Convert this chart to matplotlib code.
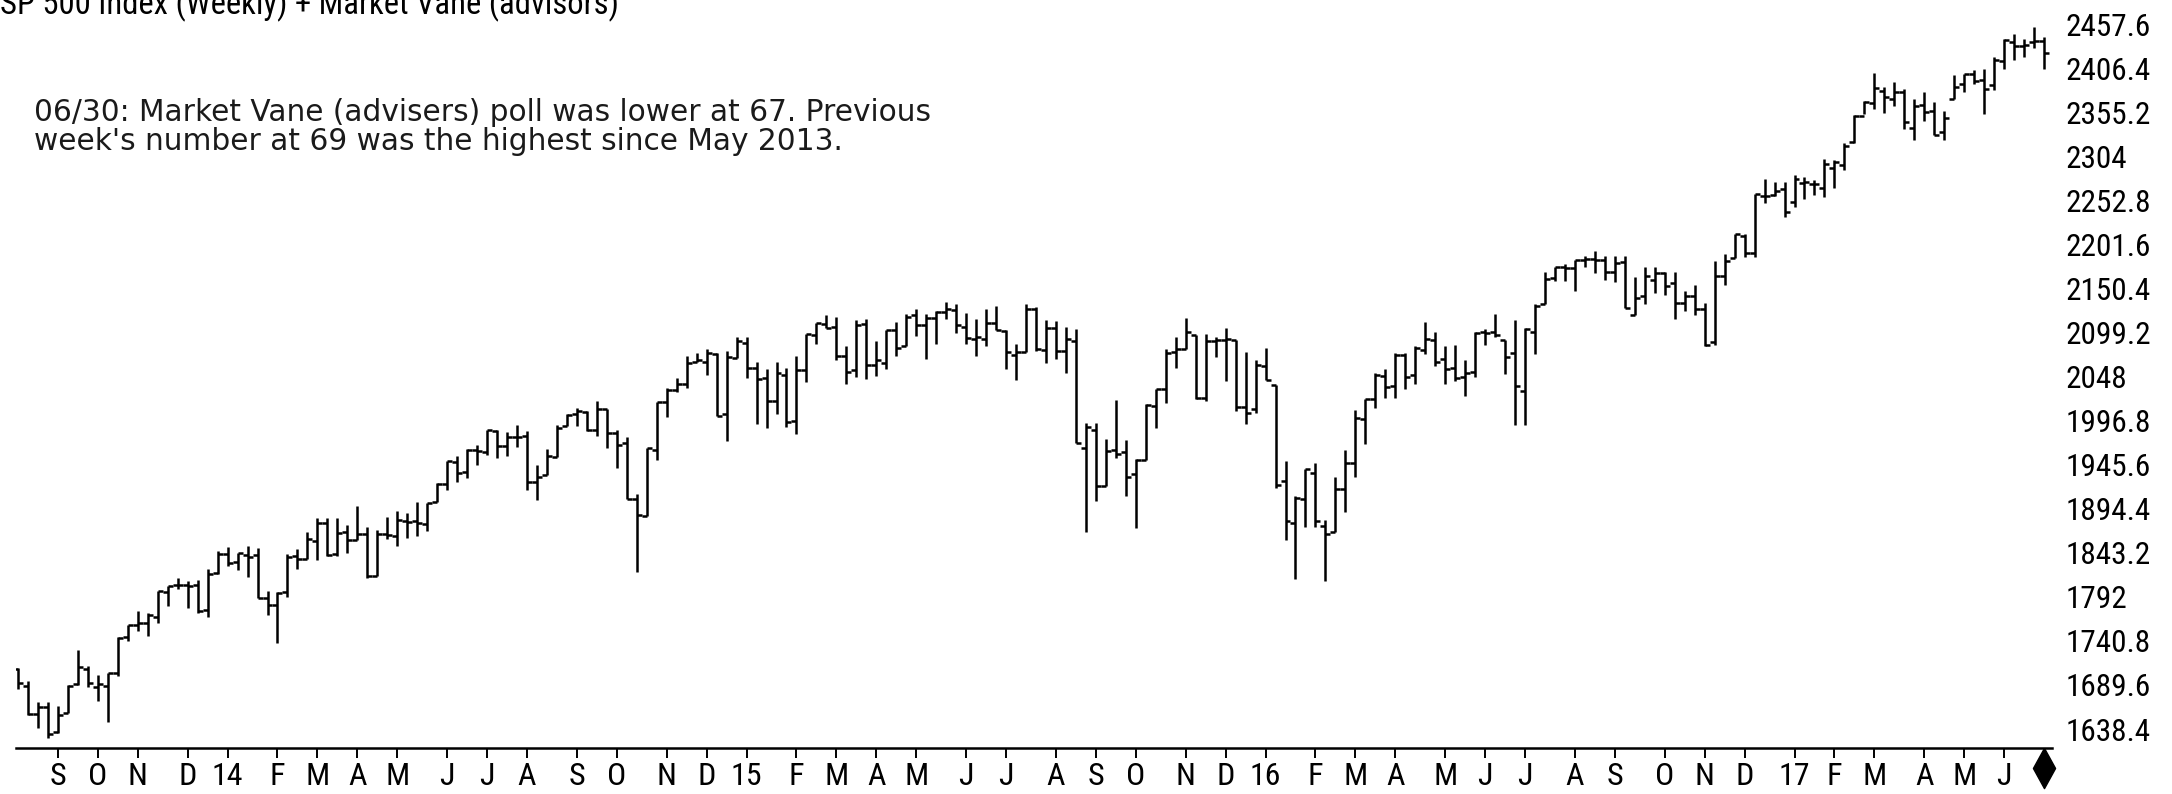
import numpy as np
import pandas as pd
import matplotlib
matplotlib.use('Agg')
import matplotlib.pyplot as plt
import matplotlib.transforms as mtrans
from matplotlib import font_manager

# weekly S&P 500 bars, week ending 2013-08-09 .. 2017-06-30
first_week = '2013-08-09'

opens = [
    # 2013
    1708, 1688, 1656, 1664, 1635, 1657, 1691, 1708, 1687, 1688, 1703, 1745,
    1759, 1762, 1769, 1798, 1806, 1806, 1806, 1777, 1820,
    # 2014
    1842, 1832, 1841, 1841, 1791, 1783, 1798, 1839, 1836, 1857, 1878, 1842,
    1867, 1858, 1865, 1816, 1865, 1863, 1880, 1880, 1877, 1902, 1923, 1949,
    1937, 1963, 1960, 1985, 1967, 1978, 1979, 1926, 1933, 1955, 1990, 2004,
    2007, 1986, 2010, 1982, 1971, 1906, 1886, 1963, 2018, 2032, 2039, 2065,
    2065, 2074, 2005, 2069,
    # 2015
    2087, 2058, 2046, 2020, 2050, 1996, 2055, 2096, 2109, 2105, 2072, 2055,
    2109, 2061, 2064, 2102, 2083, 2119, 2108, 2116, 2123, 2125, 2105, 2092,
    2092, 2110, 2101, 2073, 2077, 2126, 2079, 2104, 2078, 2089, 1965, 1986,
    1921, 1963, 1960, 1935, 1951, 2014, 2033, 2076, 2080, 2096, 2023, 2089,
    2090, 2090, 2013, 2010,
    # 2016
    2060, 2038, 1927, 1878, 1906, 1936, 1874, 1867, 1917, 1947, 1999, 2022,
    2049, 2037, 2073, 2050, 2079, 2090, 2068, 2058, 2047, 2053, 2100, 2100,
    2091, 2075, 2031, 2100, 2132, 2162, 2175, 2174, 2183, 2184, 2183, 2170,
    2181, 2120, 2142, 2160, 2168, 2157, 2133, 2142, 2127, 2088, 2165, 2186,
    2211, 2191, 2258, 2259, 2266,
    # 2017
    2251, 2273, 2272, 2267, 2290, 2294, 2320, 2351, 2366, 2380, 2371, 2379,
    2337, 2363, 2356, 2332, 2370, 2388, 2400, 2393, 2387, 2415, 2437, 2432,
    2437, 2438,
]
highs = [
    1709.2, 1693.7, 1669.5, 1669.7, 1664.8, 1689.0, 1729.9, 1711.5, 1701.0,
    1703.4, 1745.3, 1759.8, 1775.2, 1773.7, 1798.2, 1804.8, 1813.6, 1810.0,
    1811.5, 1823.8, 1844.9,
    1849.4, 1843.2, 1850.8, 1849.3, 1798.8, 1798.0, 1841.7, 1847.5, 1867.9,
    1883.6, 1883.6, 1884.0, 1875.2, 1897.3, 1873.0, 1869.6, 1884.9, 1891.3,
    1889.1, 1902.2, 1901.3, 1924.0, 1949.4, 1955.6, 1963.9, 1968.2, 1985.6,
    1985.6, 1983.9, 1991.4, 1984.9, 1945.6, 1964.0, 1991.4, 2005.0, 2011.2,
    2007.7, 2019.3, 2010.0, 1986.0, 1977.5, 1912.0, 1965.3, 2018.2, 2034.3,
    2046.2, 2071.5, 2075.8, 2079.5, 2075.8, 2077.9, 2093.6,
    2093.6, 2064.4, 2056.9, 2064.6, 2057.6, 2072.4, 2097.0, 2110.6, 2119.6,
    2117.5, 2083.5, 2113.9, 2114.9, 2089.8, 2102.6, 2111.9, 2120.9, 2125.9,
    2120.5, 2123.9, 2134.7, 2132.3, 2121.9, 2115.4, 2126.6, 2130.0, 2102.0,
    2085.7, 2132.8, 2128.9, 2114.2, 2112.7, 2105.4, 2102.9, 1993.5, 1993.5,
    1975.0, 2020.9, 1974.0, 1951.8, 2016.5, 2034.0, 2079.7, 2094.3, 2116.5,
    2096.0, 2097.1, 2094.1, 2104.3, 2090.0, 2076.7, 2067.6,
    2081.6, 2038.2, 1950.3, 1908.9, 1940.2, 1947.2, 1881.6, 1930.7, 1963.0,
    2009.1, 2022.4, 2052.4, 2056.6, 2075.0, 2075.1, 2083.8, 2111.0, 2099.9,
    2083.4, 2084.9, 2067.0, 2100.0, 2103.5, 2120.6, 2091.0, 2113.3, 2104.5,
    2131.7, 2169.0, 2175.6, 2178.3, 2182.9, 2188.5, 2193.8, 2187.9, 2187.9,
    2187.6, 2163.3, 2175.3, 2175.3, 2169.6, 2169.6, 2147.2, 2154.8, 2133.0,
    2182.3, 2189.9, 2213.4, 2214.1, 2259.8, 2277.5, 2273.8, 2273.8,
    2282.1, 2279.3, 2276.0, 2301.0, 2299.4, 2319.2, 2351.3, 2367.8, 2401.0,
    2383.9, 2390.0, 2382.4, 2370.4, 2378.4, 2366.4, 2356.2, 2398.2, 2399.3,
    2403.9, 2405.8, 2418.7, 2440.2, 2446.2, 2440.3, 2453.8, 2443.0,
]
lows = [
    1684.9, 1654.2, 1640.0, 1627.5, 1633.4, 1657.0, 1690.0, 1687.0, 1670.4,
    1646.5, 1700.0, 1740.5, 1752.7, 1746.2, 1761.6, 1780.9, 1800.9, 1779.1,
    1772.8, 1768.0, 1819.0,
    1827.7, 1823.7, 1815.0, 1790.3, 1770.5, 1737.9, 1791.8, 1824.6, 1836.0,
    1834.4, 1839.6, 1839.5, 1842.9, 1858.0, 1814.4, 1816.0, 1859.7, 1850.6,
    1859.8, 1862.4, 1868.4, 1902.0, 1916.0, 1925.8, 1930.0, 1944.7, 1956.9,
    1952.9, 1955.6, 1965.8, 1916.4, 1904.8, 1933.0, 1955.0, 1990.0, 1991.0,
    1985.2, 1978.5, 1965.0, 1941.7, 1906.0, 1820.7, 1886.0, 1951.4, 2001.0,
    2030.2, 2034.5, 2064.6, 2049.6, 2002.3, 1972.6, 2069.0,
    2046.0, 1992.4, 1988.1, 2004.5, 1989.2, 1981.0, 2041.9, 2085.4, 2103.8,
    2067.3, 2039.7, 2047.4, 2045.5, 2048.4, 2056.2, 2072.0, 2083.0, 2094.8,
    2067.9, 2085.6, 2115.2, 2099.1, 2085.7, 2072.1, 2083.7, 2101.5, 2056.3,
    2044.0, 2077.0, 2077.5, 2063.5, 2067.9, 2052.1, 1970.9, 1867.0, 1903.0,
    1921.0, 1953.0, 1908.8, 1871.9, 1951.0, 1988.6, 2017.2, 2057.8, 2080.0,
    2022.0, 2019.4, 2070.3, 2042.4, 2008.5, 1993.3, 2005.9,
    2043.6, 1918.5, 1857.8, 1812.3, 1872.7, 1872.7, 1810.1, 1867.0, 1891.0,
    1931.8, 1969.3, 2010.9, 2022.5, 2022.6, 2033.8, 2039.7, 2074.2, 2060.2,
    2039.5, 2043.1, 2025.9, 2047.3, 2085.1, 2094.2, 2050.4, 1991.7, 1991.7,
    2074.0, 2132.0, 2159.0, 2159.1, 2147.6, 2175.2, 2168.5, 2160.4, 2157.6,
    2127.8, 2119.1, 2132.8, 2145.0, 2142.6, 2114.7, 2124.6, 2119.4, 2083.8,
    2084.6, 2154.0, 2186.0, 2187.4, 2187.4, 2249.6, 2257.6, 2233.6,
    2245.1, 2254.3, 2258.8, 2257.0, 2267.2, 2287.5, 2319.5, 2352.9, 2358.9,
    2354.5, 2362.5, 2335.5, 2322.3, 2344.5, 2328.9, 2322.3, 2370.0, 2378.8,
    2387.4, 2352.7, 2380.5, 2405.6, 2415.7, 2419.2, 2430.3, 2405.7,
]
closes = [
    1691.4, 1655.8, 1663.5, 1633.0, 1655.2, 1688.0, 1709.9, 1691.8, 1690.5,
    1703.2, 1744.5, 1759.8, 1761.6, 1770.6, 1798.2, 1804.8, 1805.8, 1805.1,
    1775.3, 1818.3, 1841.4,
    1831.4, 1842.4, 1838.7, 1790.3, 1782.6, 1797.0, 1838.6, 1836.3, 1859.5,
    1878.0, 1841.1, 1866.5, 1857.6, 1865.1, 1815.7, 1864.9, 1863.4, 1881.1,
    1878.5, 1877.9, 1900.5, 1923.6, 1949.4, 1936.2, 1962.9, 1961.0, 1985.4,
    1967.6, 1978.2, 1978.3, 1925.2, 1931.6, 1955.1, 1988.4, 2003.4, 2007.7,
    1985.5, 2010.4, 1982.9, 1967.9, 1906.1, 1886.8, 1964.6, 2018.1, 2031.9,
    2039.8, 2063.5, 2067.6, 2075.4, 2002.3, 2070.7, 2088.8,
    2058.2, 2044.8, 2019.4, 2051.8, 1995.0, 2055.5, 2097.0, 2110.3, 2104.5,
    2071.3, 2053.4, 2108.1, 2061.0, 2067.0, 2102.1, 2081.2, 2117.7, 2108.3,
    2116.1, 2122.7, 2126.1, 2107.4, 2092.8, 2094.1, 2110.0, 2101.5, 2076.8,
    2076.6, 2126.6, 2079.7, 2103.8, 2077.6, 2091.5, 1970.9, 1988.9, 1921.2,
    1961.1, 1958.0, 1931.3, 1951.4, 2014.9, 2033.1, 2075.2, 2079.4, 2099.2,
    2023.0, 2089.2, 2090.1, 2091.7, 2012.4, 2005.6, 2061.0,
    2043.9, 1922.0, 1880.3, 1906.9, 1940.2, 1880.0, 1864.8, 1917.8, 1948.0,
    2000.0, 2022.2, 2049.6, 2035.9, 2072.8, 2047.6, 2080.7, 2091.6, 2065.3,
    2057.1, 2046.6, 2052.3, 2099.1, 2099.1, 2096.1, 2071.2, 2037.4, 2103.0,
    2129.9, 2161.7, 2175.0, 2173.6, 2182.9, 2184.0, 2183.9, 2169.0, 2180.0,
    2127.8, 2139.2, 2164.7, 2168.3, 2153.7, 2133.0, 2141.2, 2126.4, 2085.2,
    2164.5, 2181.9, 2213.4, 2192.0, 2259.5, 2258.1, 2263.8, 2238.8,
    2277.0, 2274.6, 2271.3, 2294.7, 2297.4, 2316.1, 2351.2, 2367.3, 2383.1,
    2372.6, 2378.3, 2344.0, 2362.7, 2355.5, 2329.0, 2348.7, 2384.2, 2399.3,
    2390.9, 2381.7, 2415.8, 2439.1, 2431.8, 2433.2, 2438.3, 2423.4,
]

price_ticks = [1638.4, 1689.6, 1740.8, 1792, 1843.2, 1894.4, 1945.6, 1996.8,
               2048, 2099.2, 2150.4, 2201.6, 2252.8, 2304, 2355.2, 2406.4, 2457.6]
month_letters = ['J', 'F', 'M', 'A', 'M', 'J', 'J', 'A', 'S', 'O', 'N', 'D']

title = 'SP 500 Index (Weekly) + Market Vane (advisors)'
note_lines = ['06/30: Market Vane (advisers) poll was lower at 67. Previous',
              "week's number at 69 was the highest since May 2013."]

# narrow font for the axis texts
names = {f.name for f in font_manager.fontManager.ttflist}
narrow = next((n for n in ['Liberation Sans Narrow', 'DejaVu Sans Condensed',
                           'Roboto Condensed'] if n in names), 'DejaVu Sans')

W, H = 2172, 794
fig = plt.figure(figsize=(W / 100, H / 100), dpi=100)
fig.patch.set_facecolor('white')

axis_y = 748.3
ax = fig.add_axes([16 / W, (H - axis_y) / H, 2036 / W, axis_y / H])
ax.set_xlim(-0.2, 203.8)
ax.set_ylim(1616, 2485.5)

idx = np.arange(len(closes))
ax.vlines(idx, lows, highs, color='black', lw=1.8)
ax.hlines(opens, idx - 0.5, idx, color='black', lw=1.8)
ax.hlines(closes, idx, idx + 0.5, color='black', lw=1.8)

for s in ['top', 'left', 'right']:
    ax.spines[s].set_visible(False)
ax.spines['bottom'].set_linewidth(1.8)

# month ticks at the first weekly bar of each month
weeks = pd.date_range(first_week, periods=len(closes), freq='W-FRI')
tick_pos, tick_lab = [], []
for i in range(1, len(weeks)):
    if weeks[i].month != weeks[i - 1].month:
        tick_pos.append(i)
        if weeks[i].month == 1:
            tick_lab.append(weeks[i].strftime('%y'))
        else:
            tick_lab.append(month_letters[weeks[i].month - 1])
ax.set_xticks(tick_pos)
ax.set_xticklabels(tick_lab, fontfamily=narrow, fontsize=23)
ax.tick_params(axis='x', direction='out', length=7, width=1.4, pad=3,
               colors='black')

ax.yaxis.tick_right()
ax.set_yticks(price_ticks)
ax.set_yticklabels([f'{v:g}' for v in price_ticks], fontfamily=narrow,
                   fontsize=22.5)
ax.tick_params(axis='y', length=0, pad=10)

# end-of-data diamond under the last bar
trans = mtrans.blended_transform_factory(ax.transData, ax.transAxes)
diamond = [(0, 1), (0.55, 0), (0, -1), (-0.55, 0), (0, 1)]
ax.plot([idx[-1]], [-20 / axis_y], marker=diamond, markersize=29,
        color='black', transform=trans, clip_on=False)

# header, partly above the top edge as in the source
fig.text(0, 1 - 14 / H, title, fontfamily=narrow, fontsize=23.5,
         va='baseline', ha='left')

fig.text(34 / W, 1 - 121 / H, note_lines[0], fontfamily='DejaVu Sans',
         fontsize=21.3, va='baseline', ha='left', color='#1a1a1a')
fig.text(34 / W, 1 - 150 / H, note_lines[1], fontfamily='DejaVu Sans',
         fontsize=21.3, va='baseline', ha='left', color='#1a1a1a')

fig.savefig('out.png', dpi=100, facecolor='white')
